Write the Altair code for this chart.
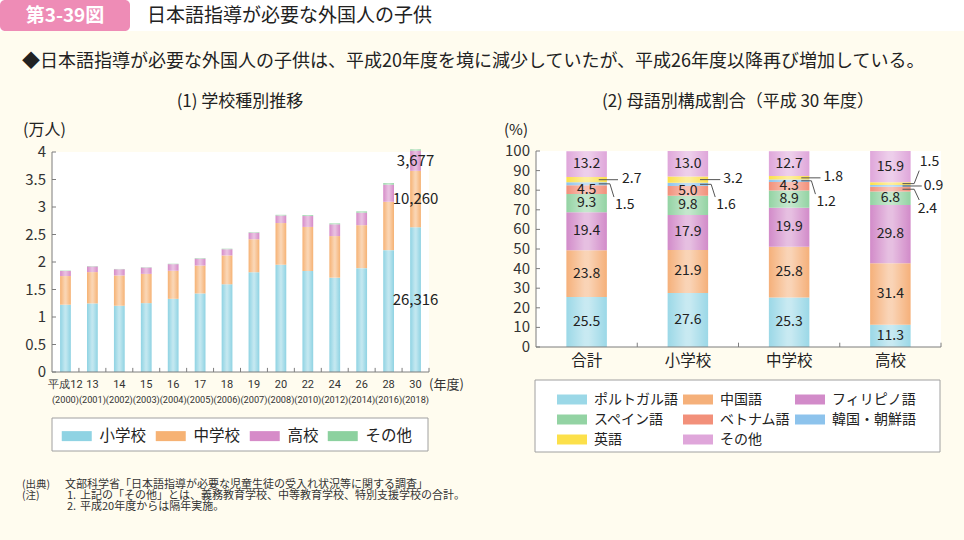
import altair as alt
import pandas as pd

FONT = "Noto Sans CJK JP"
NARROW = "Liberation Sans Narrow, Roboto, sans-serif"
INK = "#222222"
AXIS = "#7d7d7d"

# ---------------- (1) 学校種別推移 (人) ----------------
heisei = ["平成12", "13", "14", "15", "16", "17", "18", "19", "20", "22", "24", "26", "28", "30"]
seireki = ["(2000)", "(2001)", "(2002)", "(2003)", "(2004)", "(2005)", "(2006)", "(2007)",
           "(2008)", "(2010)", "(2012)", "(2014)", "(2016)", "(2018)"]
school_series = ["小学校", "中学校", "高校", "その他"]
elementary = [12240, 12468, 12046, 12523, 13307, 14281, 15946, 18142, 19504, 18365, 17154, 18884, 22156, 26316]
junior_high = [5203, 5694, 5507, 5317, 5097, 5076, 5246, 5978, 7576, 8012, 7558, 7809, 8792, 10260]
high_school = [917, 1024, 1131, 1143, 1204, 1242, 1128, 1182, 1365, 1980, 2137, 2272, 3115, 3677]
school_other = [72, 64, 50, 59, 70, 93, 93, 109, 130, 154, 164, 233, 272, 232]
school_colors = ["#8fd3e3", "#f6b274", "#d68bc8", "#8cd19f"]
left_ticks = [0, 0.5, 1, 1.5, 2, 2.5, 3, 3.5, 4]
left_tick_labels = ["0", "0.5", "1", "1.5", "2", "2.5", "3", "3.5", "4"]

# ---------------- (2) 母語別構成割合 (%) ----------------
groups = ["合計", "小学校", "中学校", "高校"]
lang_series = ["ポルトガル語", "中国語", "フィリピノ語", "スペイン語", "ベトナム語", "韓国・朝鮮語", "英語", "その他"]
portuguese = [25.5, 27.6, 25.3, 11.3]
chinese = [23.8, 21.9, 25.8, 31.4]
filipino = [19.4, 17.9, 19.9, 29.8]
spanish = [9.3, 9.8, 8.9, 6.8]
vietnamese = [4.5, 5.0, 4.3, 2.4]
korean = [1.5, 1.6, 1.2, 0.9]
english = [2.7, 3.2, 1.8, 1.5]
lang_other = [13.2, 13.0, 12.7, 15.9]
lang_colors = ["#9bd8e7", "#f5b07a", "#d28bc9", "#93d3a3", "#f2907a", "#8dc3ec", "#fce04a", "#dfa6da"]
right_ticks = [0, 10, 20, 30, 40, 50, 60, 70, 80, 90, 100]
right_tick_labels = [str(t) for t in right_ticks]

# small segments labelled outside the bar: (group, series) -> label dx, label y, knee dx, end dx, end y
outside_labels = {
    ("合計", "英語"): (0.35, 85.6, 0.31, 0.31, None),
    ("合計", "韓国・朝鮮語"): (0.28, 72.4, 0.23, 0.27, 76.5),
    ("小学校", "英語"): (0.35, 85.6, 0.32, 0.32, None),
    ("小学校", "韓国・朝鮮語"): (0.28, 72.4, 0.23, 0.27, 76.5),
    ("中学校", "英語"): (0.34, 86.5, 0.31, 0.31, None),
    ("中学校", "韓国・朝鮮語"): (0.27, 74.2, 0.22, 0.26, 78.0),
    ("高校", "英語"): (0.29, 94.6, 0.235, 0.285, 90.0),
    ("高校", "韓国・朝鮮語"): (0.33, 82.2, 0.31, 0.31, None),
    ("高校", "ベトナム語"): (0.27, 70.3, 0.235, 0.285, 75.0),
}

# ---------------- tables ----------------
rows, totals = [], []
for i in range(len(heisei)):
    base = 0.0
    for s, arr in zip(school_series, [elementary, junior_high, high_school, school_other]):
        v = arr[i] / 10000
        lab = f"{arr[i]:,}" if (i == len(heisei) - 1 and s != "その他") else ""
        rows.append(dict(i=i, x0=i - 0.2, x1=i + 0.2, series=s, y0=base, y1=base + v, mid=base + v / 2, label=lab))
        base += v
    totals.append(dict(i=i, x0=i - 0.2, x1=i + 0.2, total=base, top=heisei[i], bottom=seireki[i]))
left_df = pd.DataFrame(rows)
left_tot = pd.DataFrame(totals)

rrows, rtot, lrows, lead = [], [], [], []
for j, g in enumerate(groups):
    pos = j + 0.5
    base = 0.0
    for s, arr in zip(lang_series, [portuguese, chinese, filipino, spanish, vietnamese, korean, english, lang_other]):
        v = arr[j]
        mid = base + v / 2
        rrows.append(dict(g=g, pos=pos, x0=pos - 0.2, x1=pos + 0.2, series=s, y0=base, y1=base + v, mid=mid))
        key = (g, s)
        if key in outside_labels:
            ldx, ly, kdx, edx, ey = outside_labels[key]
            lrows.append(dict(x=pos + ldx, y=ly, text=f"{v:.1f}", align="left"))
            pts = [(pos + 0.12, mid), (pos + kdx, mid)]
            if ey is not None:
                pts.append((pos + edx, ey))
            for k, (px, py) in enumerate(pts):
                lead.append(dict(id=f"{g}-{s}", o=k, x=px, y=py))
        elif v >= 4:
            lrows.append(dict(x=pos, y=mid, text=f"{v:.1f}", align="center"))
        base += v
    rtot.append(dict(g=g, pos=pos, x0=pos - 0.2, x1=pos + 0.2, total=base))
right_df = pd.DataFrame(rrows)
right_tot = pd.DataFrame(rtot)
right_lab = pd.DataFrame(lrows)
lead_df = pd.DataFrame(lead)

# ---------------- scales (pixel ranges on one canvas) ----------------
LX = alt.Scale(domain=[-0.5, 13.5], range=[52, 429], nice=False, zero=False)
LY = alt.Scale(domain=[0, 4], range=[372, 152], nice=False, zero=False)
RX = alt.Scale(domain=[0, 4], range=[536, 941], nice=False, zero=False)
RY = alt.Scale(domain=[0, 100], range=[347, 151], nice=False, zero=False)

ONE = alt.Data(values=[{"a": 1}])


def ptext(text, x, y, size, color=INK, align="left", weight="normal", font=FONT):
    return alt.Chart(ONE).mark_text(text=text, align=align, baseline="middle", fontSize=size,
                                    font=font, color=color, fontWeight=weight).encode(
        x=alt.value(x), y=alt.value(y))


def prect(x, x2, y, y2, fill, stroke=None, radius=0):
    kw = dict(color=fill, cornerRadius=radius)
    if stroke:
        kw.update(stroke=stroke, strokeWidth=1)
    return alt.Chart(ONE).mark_rect(**kw).encode(
        x=alt.value(x), x2=alt.value(x2), y=alt.value(y), y2=alt.value(y2))


shine = {"gradient": "linear", "x1": 0, "x2": 1, "y1": 0, "y2": 0,
         "stops": [{"offset": 0, "color": "rgba(255,255,255,0)"},
                   {"offset": 0.45, "color": "rgba(255,255,255,0.45)"},
                   {"offset": 0.55, "color": "rgba(255,255,255,0.45)"},
                   {"offset": 1, "color": "rgba(255,255,255,0)"}]}

layers = []

# header
layers.append(prect(0, 964, 0, 31, "#ffffff"))
layers.append(prect(0, 130, 0, 31, "#ee8cb6", radius=5))
layers.append(ptext("第3-39図", 65, 16, 19, color="#ffffff", align="center", weight="bold"))
layers.append(ptext("日本語指導が必要な外国人の子供", 147, 16, 19))
layers.append(ptext("◆日本語指導が必要な外国人の子供は、平成20年度を境に減少していたが、平成26年度以降再び増加している。",
                    22, 62, 18))

# ---------- left panel ----------
layers.append(ptext("(1) 学校種別推移", 240, 102, 17, align="center"))
layers.append(ptext("(万人)", 23, 130, 16))
panel_l = pd.DataFrame([dict(x0=-0.5, x1=13.5, y0=0, y1=4)])
layers.append(alt.Chart(panel_l).mark_rect(color="#ffffff").encode(
    x=alt.X("x0:Q", scale=LX, axis=None), x2="x1:Q",
    y=alt.Y("y0:Q", scale=LY, axis=None), y2="y1:Q"))

layers.append(prect(52, 428, 418, 451, "#ffffff", stroke="#a0a0a0"))

layers.append(alt.Chart(left_df).mark_bar().encode(
    x=alt.X("x0:Q", scale=LX, axis=None), x2="x1:Q",
    y=alt.Y("y0:Q", scale=LY, axis=None), y2="y1:Q",
    color=alt.Color("series:N", scale=alt.Scale(domain=school_series, range=school_colors),
                    legend=alt.Legend(orient="none", legendX=69, legendY=428, direction="horizontal",
                                      columns=4, title=None, symbolType="M-3,-1H3V1H-3Z",
                                      symbolSize=100, symbolStrokeWidth=0, labelFont=FONT,
                                      labelFontSize=15.5, labelColor=INK, labelOffset=15,
                                      columnPadding=8, gridAlign="each", padding=0))))
layers.append(alt.Chart(left_tot).mark_bar(color=shine).encode(
    x=alt.X("x0:Q", scale=LX, axis=None), x2="x1:Q",
    y=alt.Y("total:Q", scale=LY, axis=None), y2=alt.datum(0)))

# left axes
ly_ticks = pd.DataFrame({"v": left_ticks, "lab": left_tick_labels})
layers.append(alt.Chart(ly_ticks).mark_text(align="right", baseline="middle", font=FONT, fontSize=15,
                                            color="#333333").encode(
    y=alt.Y("v:Q", scale=LY, axis=None), x=alt.value(46), text="lab:N"))
layers.append(alt.Chart(ly_ticks).mark_rule(color=AXIS, strokeWidth=1).encode(
    y=alt.Y("v:Q", scale=LY, axis=None), x=alt.value(52), x2=alt.value(56)))
lx_b = pd.DataFrame({"x": [i + 0.5 for i in range(len(heisei))], "a": 0.0, "b": 0.075})
layers.append(alt.Chart(lx_b).mark_rule(color=AXIS, strokeWidth=1).encode(
    x=alt.X("x:Q", scale=LX, axis=None), y=alt.Y("a:Q", scale=LY, axis=None), y2="b:Q"))
l_dom = pd.DataFrame([dict(x0=-0.5, x1=13.5, y0=0, y1=4)])
layers.append(alt.Chart(l_dom).mark_rule(color=AXIS, strokeWidth=1).encode(
    x=alt.X("x0:Q", scale=LX, axis=None), x2="x1:Q", y=alt.Y("y0:Q", scale=LY, axis=None)))
layers.append(alt.Chart(l_dom).mark_rule(color=AXIS, strokeWidth=1).encode(
    x=alt.X("x0:Q", scale=LX, axis=None), y=alt.Y("y0:Q", scale=LY, axis=None), y2="y1:Q"))
layers.append(alt.Chart(left_tot).mark_text(baseline="middle", font=NARROW, fontSize=11, color="#333333").encode(
    x=alt.X("i:Q", scale=LX, axis=None), y=alt.value(385), text="top:N"))
layers.append(alt.Chart(left_tot).mark_text(baseline="middle", font=NARROW, fontSize=9.2, color="#333333").encode(
    x=alt.X("i:Q", scale=LX, axis=None), y=alt.value(400), text="bottom:N"))
layers.append(ptext("(年度)", 429, 385, 13, color="#333333"))
layers.append(alt.Chart(left_df[left_df["label"] != ""]).mark_text(
    baseline="middle", font=FONT, fontSize=15, color=INK).encode(
    x=alt.X("i:Q", scale=LX, axis=None), y=alt.Y("mid:Q", scale=LY, axis=None), text="label:N"))

# ---------- right panel ----------
layers.append(ptext("(2) 母語別構成割合（平成 30 年度）", 738, 102, 17, align="center"))
layers.append(ptext("(%)", 516, 130, 15, align="center"))
panel_r = pd.DataFrame([dict(x0=0, x1=4, y0=0, y1=100)])
layers.append(alt.Chart(panel_r).mark_rect(color="#ffffff").encode(
    x=alt.X("x0:Q", scale=RX, axis=None), x2="x1:Q",
    y=alt.Y("y0:Q", scale=RY, axis=None), y2="y1:Q"))
layers.append(prect(535, 940, 380, 452, "#ffffff", stroke="#a0a0a0"))

layers.append(alt.Chart(right_df).mark_bar().encode(
    x=alt.X("x0:Q", scale=RX, axis=None), x2="x1:Q",
    y=alt.Y("y0:Q", scale=RY, axis=None), y2="y1:Q",
    color=alt.Color("series:N", scale=alt.Scale(domain=lang_series, range=lang_colors),
                    legend=alt.Legend(orient="none", legendX=565, legendY=392.5, direction="horizontal",
                                      columns=3, title=None, symbolType="M-3,-1H3V1H-3Z",
                                      symbolSize=100, symbolStrokeWidth=0, labelFont=FONT,
                                      labelFontSize=14, labelColor=INK, labelOffset=15,
                                      columnPadding=5, rowPadding=6, gridAlign="each", padding=0))))
layers.append(alt.Chart(right_tot).mark_bar(color=shine).encode(
    x=alt.X("x0:Q", scale=RX, axis=None), x2="x1:Q",
    y=alt.Y("total:Q", scale=RY, axis=None), y2=alt.datum(0)))

ry_ticks = pd.DataFrame({"v": right_ticks, "lab": right_tick_labels})
layers.append(alt.Chart(ry_ticks).mark_text(align="right", baseline="middle", font=FONT, fontSize=15,
                                            color="#333333").encode(
    y=alt.Y("v:Q", scale=RY, axis=None), x=alt.value(530), text="lab:N"))
layers.append(alt.Chart(ry_ticks).mark_rule(color=AXIS, strokeWidth=1).encode(
    y=alt.Y("v:Q", scale=RY, axis=None), x=alt.value(536), x2=alt.value(540)))
rx_b = pd.DataFrame({"x": [1, 2, 3, 4], "a": 0.0, "b": 2.2})
layers.append(alt.Chart(rx_b).mark_rule(color=AXIS, strokeWidth=1).encode(
    x=alt.X("x:Q", scale=RX, axis=None), y=alt.Y("a:Q", scale=RY, axis=None), y2="b:Q"))
r_dom = pd.DataFrame([dict(x0=0, x1=4, y0=0, y1=100)])
layers.append(alt.Chart(r_dom).mark_rule(color=AXIS, strokeWidth=1).encode(
    x=alt.X("x0:Q", scale=RX, axis=None), x2="x1:Q", y=alt.Y("y0:Q", scale=RY, axis=None)))
layers.append(alt.Chart(r_dom).mark_rule(color=AXIS, strokeWidth=1).encode(
    x=alt.X("x0:Q", scale=RX, axis=None), y=alt.Y("y0:Q", scale=RY, axis=None), y2="y1:Q"))
layers.append(alt.Chart(right_tot).mark_text(baseline="middle", font=FONT, fontSize=15.5, color=INK).encode(
    x=alt.X("pos:Q", scale=RX, axis=None), y=alt.value(361), text="g:N"))

layers.append(alt.Chart(lead_df).mark_line(color="#555555", strokeWidth=1).encode(
    x=alt.X("x:Q", scale=RX, axis=None), y=alt.Y("y:Q", scale=RY, axis=None),
    detail="id:N", order="o:Q"))
for al in ["center", "left"]:
    layers.append(alt.Chart(right_lab[right_lab["align"] == al]).mark_text(
        align=al, baseline="middle", font=FONT, fontSize=14, color=INK).encode(
        x=alt.X("x:Q", scale=RX, axis=None), y=alt.Y("y:Q", scale=RY, axis=None), text="text:N"))

# footnotes
layers.append(ptext("(出典)", 22, 485, 10.5, color="#333333"))
layers.append(ptext("文部科学省「日本語指導が必要な児童生徒の受入れ状況等に関する調査」", 65, 485, 11, color="#333333"))
layers.append(ptext("(注)", 22, 496, 10.5, color="#333333"))
layers.append(ptext("1.", 67, 496, 11, color="#333333"))
layers.append(ptext("上記の「その他」とは、義務教育学校、中等教育学校、特別支援学校の合計。", 80, 496, 11, color="#333333"))
layers.append(ptext("2.", 67, 507, 11, color="#333333"))
layers.append(ptext("平成20年度からは隔年実施。", 80, 507, 11, color="#333333"))

chart = alt.layer(*layers).resolve_scale(x="independent", y="independent", color="independent").properties(
    width=964, height=540, padding=0, background="#fffcef",
    autosize=alt.AutoSizeParams(type="none"),
).configure_view(stroke=None)

chart.save("out.html", embed_options={"renderer": "svg", "actions": False})
